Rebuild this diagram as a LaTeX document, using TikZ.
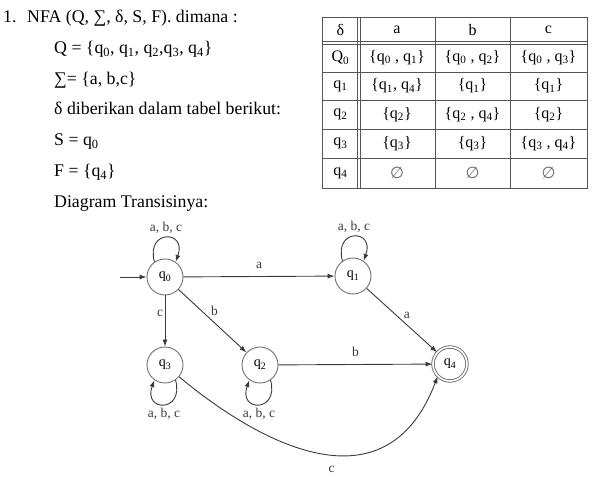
\documentclass[tikz,border=0pt]{standalone}
\usepackage{fontspec}
\setmainfont{Liberation Serif}
\newfontfamily\symfont{DejaVu Sans}
\usetikzlibrary{arrows.meta,positioning,calc}
\definecolor{rulecol}{HTML}{555555}
\definecolor{statecol}{HTML}{707070}
\definecolor{edgecol}{HTML}{3a3a3a}
\definecolor{emptycol}{HTML}{666666}
\newcommand{\qs}[1]{q\textsubscript{#1}}
\newcommand{\nullset}{{\symfont\color{emptycol}∅}}

\begin{document}
\begin{tikzpicture}[
  x=1pt, y=-1pt, >={Latex[length=7pt,width=5pt]},
  body/.style={anchor=base west, inner sep=0pt, font=\fontsize{17.8}{20}\selectfont},
  cell/.style={inner sep=0pt, font=\fontsize{16}{18}\selectfont},
  state/.style={circle, draw=statecol, line width=0.9pt, minimum size=36pt, inner sep=0pt, font=\fontsize{14}{16}\selectfont},
  lbl/.style={inner sep=1.5pt, font=\fontsize{13.5}{15}\selectfont},
  edge/.style={->, edgecol, line width=0.9pt},
  rule/.style={rulecol, line width=0.9pt}
]
\useasboundingbox (0,0) rectangle (598,486);

% keterangan NFA
\node[body] (num) at (3,23) {1.};
\node[body] (nfa) at (27,23) {NFA (Q, ∑, δ, S, F). dimana :};
\node[body] (qset) at (54,54) {Q = \{\qs0, \qs1, \qs2,\qs3, \qs4\}};
\node[body] (sigma) at (54,85) {∑= \{a, b,c\}};
\node[body] (delta) at (54,115) {δ diberikan dalam tabel berikut:};
\node[body] (start) at (54,146) {S = \qs0};
\node[body] (final) at (54,177) {F = \{\qs4\}};
\node[body] (diag) at (54,208) {Diagram Transisinya:};

% tabel transisi
\draw[rule] (322,17) rectangle (587,188);
\draw[rule] (357.5,17) -- (357.5,188);
\draw[rule] (360.5,17) -- (360.5,188);
\draw[rule] (435,17) -- (435,188);
\draw[rule] (510,17) -- (510,188);
\draw[rule] (322,41.5) -- (587,41.5);
\draw[rule] (322,44) -- (587,44);
\draw[rule] (322,72) -- (587,72);
\draw[rule] (322,100) -- (587,100);
\draw[rule] (322,129) -- (587,129);
\draw[rule] (322,158) -- (587,158);

\node[cell] (hd) at (340.5,30) {δ};
\node[cell] (ha) at (397,30) {a};
\node[cell] (hb) at (472.5,30) {b};
\node[cell] (hc) at (548.5,30) {c};

\node[cell] (r0) at (340.5,57.5) {Q\textsubscript{0}};
\node[cell] (r0a) at (397,57.5) {\{\qs0 , \qs1\}};
\node[cell] (r0b) at (472.5,57.5) {\{\qs0 , \qs2\}};
\node[cell] (r0c) at (548.5,57.5) {\{\qs0 , \qs3\}};

\node[cell] (r1) at (340.5,86) {\qs1};
\node[cell] (r1a) at (397,86) {\{\qs1, \qs4\}};
\node[cell] (r1b) at (472.5,86) {\{\qs1\}};
\node[cell] (r1c) at (548.5,86) {\{\qs1\}};

\node[cell] (r2) at (340.5,114.5) {\qs2};
\node[cell] (r2a) at (397,114.5) {\{\qs2\}};
\node[cell] (r2b) at (472.5,114.5) {\{\qs2 , \qs4\}};
\node[cell] (r2c) at (548.5,114.5) {\{\qs2\}};

\node[cell] (r3) at (340.5,143.5) {\qs3};
\node[cell] (r3a) at (397,143.5) {\{\qs3\}};
\node[cell] (r3b) at (472.5,143.5) {\{\qs3\}};
\node[cell] (r3c) at (548.5,143.5) {\{\qs3 , \qs4\}};

\node[cell] (r4) at (340.5,173) {\qs4};
\node[cell] (r4a) at (397,173) {\nullset};
\node[cell] (r4b) at (472.5,173) {\nullset};
\node[cell] (r4c) at (548.5,173) {\nullset};

% diagram transisi
\node[state] (q0) at (165,277) {\qs0};
\node[state] (q1) at (353,276) {\qs1};
\node[state] (q3) at (165,365) {\qs3};
\node[state] (q2) at (260,365) {\qs2};
\node[state, double, double distance=1.6pt, minimum size=34pt] (q4) at (450,364) {\qs4};
\coordinate (init) at (120,277);

\draw[edge] (init) -- (q0);
\draw[edge] (q0) -- node[lbl, above=6pt] (ea) {a} (q1);
\draw[edge] (q0) -- node[lbl, left, pos=0.35] (ec) {c} (q3);
\draw[edge] (q0) -- node[lbl, above right, pos=0.45] (eb) {b} (q2);
\draw[edge] (q2) -- node[lbl, above=6pt] (eb4) {b} (q4);
\draw[edge] (q1) -- node[lbl, above right] (ea4) {a} (q4);
\draw[edge] (q3.-40) .. controls (255,440) and (385,515) .. node[lbl, below=10pt, pos=0.55] (ec4) {c} (q4.-135);

\draw[edge] (q0.125) .. controls +(105:34pt) and +(70:34pt) .. node[lbl, above=2pt] (l0) {a, b, c} (q0.55);
\draw[edge] (q1.125) .. controls +(105:34pt) and +(70:34pt) .. node[lbl, above=2pt] (l1) {a, b, c} (q1.55);
\draw[edge] (q3.-55) .. controls +(-75:34pt) and +(-110:34pt) .. node[lbl, below=2pt] (l3) {a, b, c} (q3.-125);
\draw[edge] (q2.-55) .. controls +(-75:34pt) and +(-110:34pt) .. node[lbl, below=2pt] (l2) {a, b, c} (q2.-125);
\end{tikzpicture}
\end{document}
